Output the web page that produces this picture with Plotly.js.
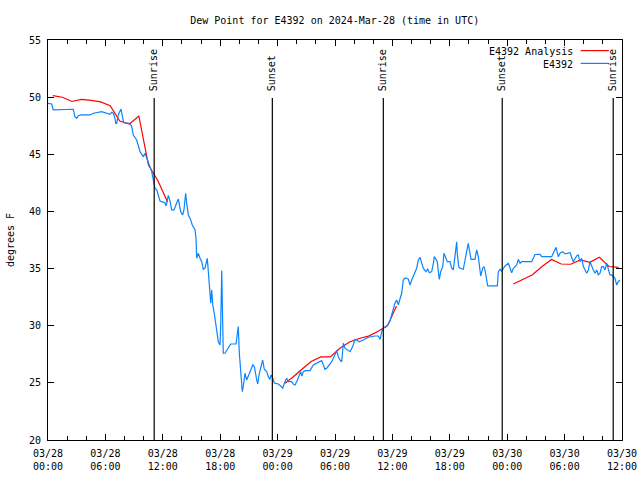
<!DOCTYPE html>
<html>
<head>
<meta charset="utf-8">
<script src="https://cdn.plot.ly/plotly-3.0.1.min.js"></script>
<style>html,body{margin:0;padding:0;background:#fff;}#chart{width:640px;height:480px;}</style>
</head>
<body>
<div id="chart"></div>
<script>
// Hours after 2024-03-28 00:00 UTC
const blueHours = [0,0.39,0.55,1.88,1.99,2.64,2.82,3.00,3.17,3.45,4.39,4.74,5.61,6.14,6.48,6.66,6.83,7.00,7.08,7.18,
7.35,7.63,7.77,7.91,8.57,8.75,8.92,9.27,9.62,9.96,10.14,10.48,10.84,11.01,11.18,11.36,11.53,11.71,12.23,12.34,
12.58,12.75,12.93,13.17,13.45,13.62,13.87,14.08,14.22,14.39,14.50,14.67,14.92,15.08,15.37,15.47,15.54,15.71,15.89,16.07,
16.23,16.41,16.52,16.65,16.76,16.93,17.01,17.11,17.22,17.38,17.53,17.63,17.80,17.98,18.05,18.16,18.26,18.32,18.50,18.85,
19.10,19.65,19.79,19.89,20.00,20.14,20.31,20.41,20.59,20.77,20.94,21.12,21.40,21.57,21.82,21.92,22.09,22.23,22.44,22.61,
22.86,23.03,23.21,23.31,23.49,23.65,24.07,24.32,24.53,24.77,24.95,25.12,25.47,25.64,25.82,26.00,26.27,26.41,26.52,26.69,
26.86,27.39,27.73,28.25,28.61,28.78,28.95,29.13,29.40,29.66,29.82,30.00,30.18,30.35,30.52,30.70,30.87,31.04,31.29,31.57,
31.85,32.09,32.27,32.54,32.96,33.48,34.18,34.53,34.71,34.88,35.05,35.41,35.75,36.03,36.27,36.45,36.62,36.79,36.97,37.14,
37.32,37.66,37.84,38.02,38.36,38.54,38.71,38.89,39.07,39.23,39.51,39.69,39.86,40.11,40.28,40.38,40.56,40.69,40.90,41.05,
41.26,41.39,41.60,41.74,42.02,42.20,42.37,42.54,42.65,42.72,42.78,42.93,43.07,43.41,43.59,43.77,43.93,44.11,44.22,44.63,
44.81,44.98,45.16,45.23,45.44,45.58,45.71,45.86,45.96,46.97,47.07,47.25,47.43,47.77,48.12,48.47,48.64,48.99,49.16,49.34,
49.52,50.56,50.91,51.43,51.61,52.65,52.82,53.10,53.34,53.52,53.80,54.04,54.57,54.74,54.91,55.26,55.43,55.61,55.79,55.96,
56.31,56.48,56.66,57.00,57.18,57.36,57.52,57.70,57.88,58.05,58.22,58.40,58.57,58.74,58.92,59.27,59.44,59.61,59.79];
const blueDewF = [49.46,49.40,48.88,48.88,48.94,48.94,48.29,48.15,48.38,48.44,48.44,48.59,48.73,48.59,48.50,48.67,48.59,48.15,47.71,47.71,
48.44,48.96,48.15,47.76,47.71,47.41,46.69,46.25,45.23,44.79,45.09,44.35,43.48,42.75,42.03,41.88,41.29,40.91,40.74,40.48,
41.40,40.91,40.13,40.13,40.74,41.09,39.98,39.69,40.21,41.59,40.71,39.69,39.25,38.81,38.38,37.65,35.90,36.34,35.90,35.60,
34.94,35.03,35.46,35.90,34.73,32.84,31.96,33.13,31.82,31.09,30.21,29.34,28.60,28.32,29.92,34.82,30.50,27.59,27.59,28.03,
28.40,28.40,29.34,29.92,27.59,26.13,24.23,24.67,25.84,25.25,25.54,25.98,26.57,26.42,25.25,24.90,25.84,26.42,27.00,26.19,
25.98,25.54,25.31,25.69,25.43,24.99,24.90,24.73,24.53,25.10,25.40,25.10,25.10,24.90,24.82,25.10,25.69,25.98,25.60,25.98,
26.07,26.07,26.57,26.77,26.94,26.57,26.19,26.28,26.57,26.85,27.15,27.44,27.82,27.29,27.00,26.85,28.46,28.03,27.88,27.73,
28.17,28.81,28.75,28.60,28.75,28.99,29.10,29.10,28.81,29.48,29.78,29.93,30.41,31.23,31.99,32.25,31.82,32.34,32.84,34.00,
34.18,34.09,33.56,34.00,34.73,35.03,35.75,35.99,35.46,35.03,34.73,34.94,34.64,34.73,35.46,36.04,35.81,35.60,34.06,34.73,
35.17,36.34,35.90,35.60,35.60,35.03,34.88,35.90,36.92,37.35,36.34,35.17,35.03,34.94,35.75,36.48,37.21,36.34,35.81,35.81,
36.63,36.04,34.88,34.35,35.05,35.17,34.73,34.00,33.48,33.48,34.70,34.94,34.79,35.23,35.46,34.64,35.03,35.31,35.81,35.46,
35.60,35.60,36.23,36.25,36.04,36.04,36.34,36.86,36.04,36.34,36.48,36.28,36.39,36.04,35.60,36.10,36.19,35.60,35.90,35.17,
34.59,34.88,35.60,34.88,34.59,34.88,34.44,34.59,35.17,35.17,34.88,35.46,34.88,34.44,34.44,34.15,33.56,33.85,34.00];

// Analysis series (null = no analysis available)
const analysisHours = [0.5,1.5,2.5,3.5,4.5,5.5,6.5,7.5,8.5,9.5,10.5,11.5,12.5,null,
24.77,25.52,26.51,27.51,28.52,29.51,30.51,31.52,32.52,33.51,34.51,35.52,36.43,null,
48.64,49.64,50.64,51.64,52.64,53.64,54.64,55.64,56.64,57.64,58.64,59.64];
const analysisDewF = [50.13,49.99,49.62,49.81,49.72,49.59,49.25,47.91,47.65,48.35,44.06,42.66,40.83,null,
24.97,25.45,26.17,26.87,27.27,27.27,28.03,28.58,28.88,29.09,29.52,30.05,31.73,null,
33.65,34.05,34.46,35.18,35.80,35.40,35.38,35.75,35.55,35.99,35.18,35.11];

const sunLabels = ['Sunrise','Sunset','Sunrise','Sunset','Sunrise'];
const sunHours = [11.1, 23.45, 35.05, 47.48, 59.08];

const tickHours = [0,6,12,18,24,30,36,42,48,54,60];
const tickText = ['03/28<br>00:00','03/28<br>06:00','03/28<br>12:00','03/28<br>18:00','03/29<br>00:00','03/29<br>06:00',
'03/29<br>12:00','03/29<br>18:00','03/30<br>00:00','03/30<br>06:00','03/30<br>12:00'];

const base = Date.UTC(2024, 2, 28, 0, 0, 0);
function toDate(h) {
  if (h === null) return null;
  return new Date(base + h * 3600e3).toISOString().replace('T', ' ').slice(0, 19);
}

const FONT = 'DejaVu Sans Mono, monospace';
const RED = '#ff0000';
const BLUE = '#0a84ff';

const traces = [
  {x: analysisHours.map(toDate), y: analysisDewF, type: 'scatter', mode: 'lines', name: 'E4392 Analysis',
   line: {color: RED, width: 1.2}, connectgaps: false, showlegend: false},
  {x: blueHours.map(toDate), y: blueDewF, type: 'scatter', mode: 'lines', name: 'E4392',
   line: {color: BLUE, width: 1.2}, showlegend: false}
];

const shapes = [];
const annotations = [];
sunHours.forEach((h, i) => {
  shapes.push({type: 'line', xref: 'x', yref: 'paper', x0: toDate(h), x1: toDate(h), y0: 0, y1: 0.855,
    line: {color: '#000', width: 1.2}});
  annotations.push({xref: 'x', yref: 'paper', x: toDate(h), y: 0.8675, text: sunLabels[i], textangle: -90,
    showarrow: false, xanchor: 'center', yanchor: 'bottom', font: {family: FONT, size: 10, color: '#000'}});
});

// legend (text on the left, line sample on the right, as in the reference)
const legendNames = ['E4392 Analysis', 'E4392'];
const legendColors = [RED, BLUE];
const legendY = [0.9715, 0.9395];
legendNames.forEach((n, i) => {
  annotations.push({xref: 'paper', yref: 'paper', x: 0.918, y: legendY[i], text: n, showarrow: false,
    xanchor: 'right', yanchor: 'middle', font: {family: FONT, size: 10, color: '#000'}});
  shapes.push({type: 'line', xref: 'paper', yref: 'paper', x0: 0.928, x1: 0.977, y0: legendY[i] + 0.002, y1: legendY[i] + 0.002,
    line: {color: legendColors[i], width: 1.2}});
});

const layout = {
  width: 640, height: 480,
  margin: {l: 48, r: 18, t: 40, b: 40, pad: 0},
  paper_bgcolor: '#fff', plot_bgcolor: '#fff',
  font: {family: FONT, size: 10, color: '#000'},
  title: {text: 'Dew Point for E4392 on 2024-Mar-28 (time in UTC)', x: 0.523, xanchor: 'center', y: 0.958, yanchor: 'middle',
    font: {family: FONT, size: 10, color: '#000'}},
  xaxis: {
    type: 'date', range: [toDate(0), toDate(60)],
    tickmode: 'array', tickvals: tickHours.map(toDate), ticktext: tickText,
    ticks: 'inside', ticklen: 6, tickcolor: '#000', tickwidth: 1,
    minor: {dtick: 2 * 3600e3, tick0: toDate(0), ticks: 'inside', ticklen: 4, tickcolor: '#000', showgrid: false},
    showline: true, linecolor: '#000', linewidth: 1, mirror: 'ticks',
    showgrid: false, zeroline: false, ticklabelstandoff: 4,
    tickfont: {family: FONT, size: 10, color: '#000'}
  },
  yaxis: {
    range: [20, 55], tickmode: 'linear', tick0: 20, dtick: 5,
    ticks: 'inside', ticklen: 6, tickcolor: '#000', tickwidth: 1,
    showline: true, linecolor: '#000', linewidth: 1, mirror: 'ticks',
    showgrid: false, zeroline: false, ticklabelstandoff: 4,
    tickfont: {family: FONT, size: 10, color: '#000'},
    title: {text: 'degrees F', font: {family: FONT, size: 10, color: '#000'}, standoff: 12}
  },
  shapes: shapes,
  annotations: annotations,
  showlegend: false
};

Plotly.newPlot('chart', traces, layout, {displayModeBar: false, staticPlot: true});
</script>
</body>
</html>
